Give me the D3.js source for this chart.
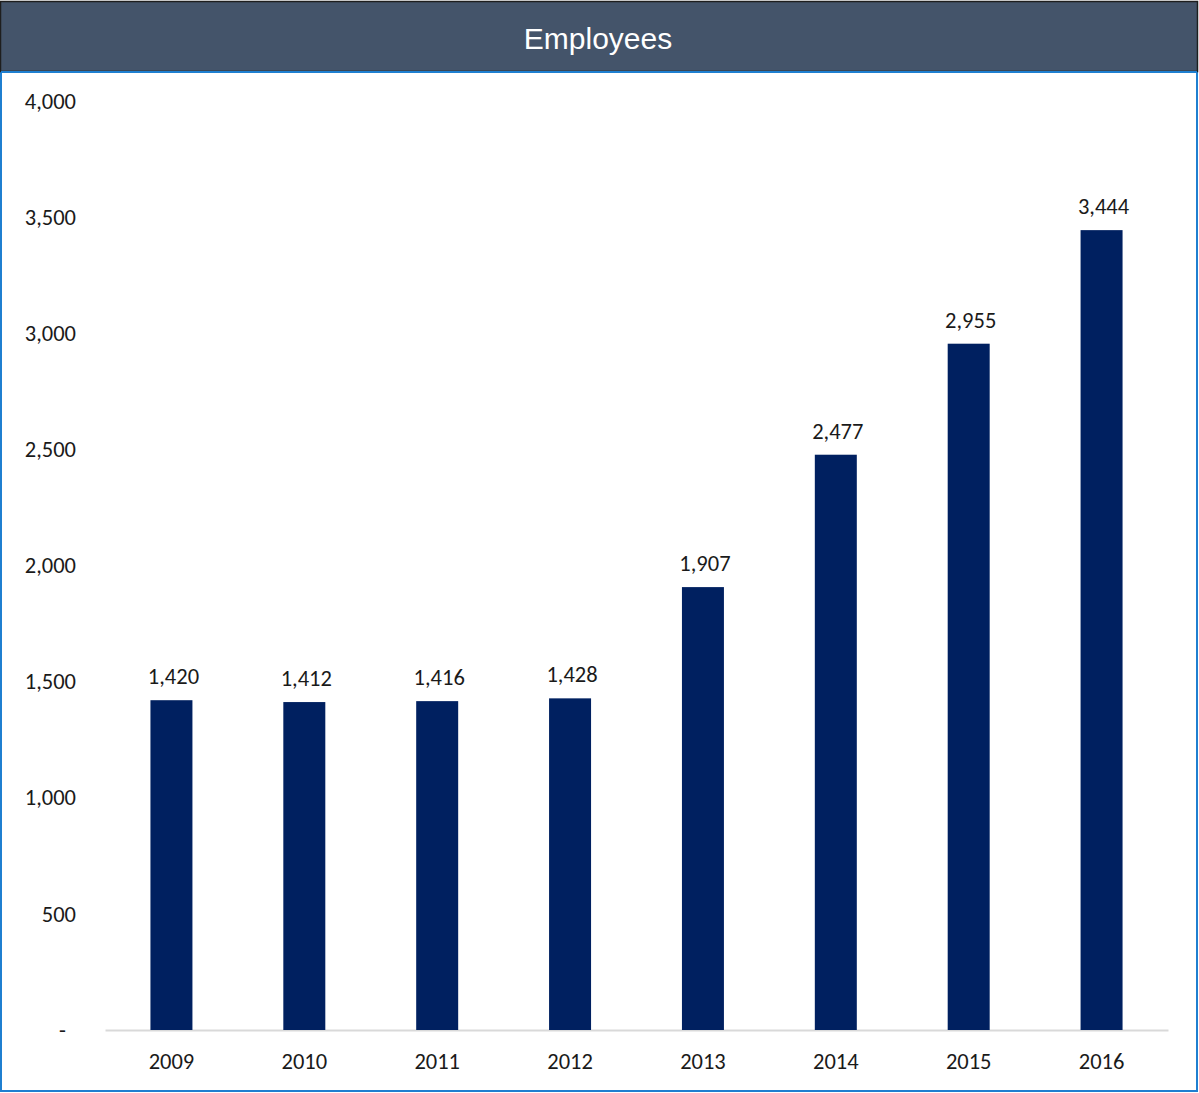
<!DOCTYPE html>
<html>
<head>
<meta charset="utf-8">
<script src="https://cdn.jsdelivr.net/npm/d3@7"></script>
<style>
  html, body { margin: 0; padding: 0; background: #fff; }
  svg { display: block; }
</style>
</head>
<body>
<svg id="chart" width="1199" height="1093"></svg>
<script>
// Headcount by year
const years = ["2009", "2010", "2011", "2012", "2013", "2014", "2015", "2016"];
const employees = [1420, 1412, 1416, 1428, 1907, 2477, 2955, 3444];
const yTicks = [0, 500, 1000, 1500, 2000, 2500, 3000, 3500, 4000];
const chartTitle = "Employees";

const W = 1199, H = 1093;
const svg = d3.select("#chart");
const labelFont = "Carlito, Calibri, Lato, 'Noto Sans', sans-serif";
const labelSize = "22.5px";

// outer frame (blue) and title band
svg.append("rect")
  .attr("x", 1).attr("y", 2).attr("width", W - 3).attr("height", H - 4)
  .attr("fill", "#fff").attr("stroke", "#1f7fd0").attr("stroke-width", 2);

svg.append("rect")
  .attr("x", 0.5).attr("y", 1.5).attr("width", W - 2).attr("height", 70)
  .attr("fill", "#44546a").attr("stroke", "#1e1e1e").attr("stroke-width", 1.5);

svg.append("line")
  .attr("x1", 1).attr("x2", W - 2).attr("y1", 72).attr("y2", 72)
  .attr("stroke", "#1f7fd0").attr("stroke-width", 2);

svg.append("text")
  .attr("x", 598).attr("y", 49)
  .attr("text-anchor", "middle")
  .attr("fill", "#fff")
  .style("font-family", "'Liberation Sans', Arial, sans-serif")
  .style("font-size", "30px")
  .text(chartTitle);

// plot scales
const x = d3.scaleBand().domain(years).range([105, 1168]).padding(0);
const y = d3.scaleLinear().domain([0, 4000]).range([1030, 101]);
const barW = x.bandwidth() * 0.316;

const fmt = d3.format(",");

// y axis labels (no line, no ticks)
const yAxis = d3.axisLeft(y).tickValues(yTicks)
  .tickSize(0).tickPadding(0)
  .tickFormat(d => d === 0 ? "-" : fmt(d));
const gy = svg.append("g").attr("transform", "translate(76,0)").call(yAxis);
gy.select(".domain").remove();
gy.selectAll("text")
  .attr("fill", "#1a1a1a")
  .style("font-family", labelFont)
  .style("font-size", labelSize)
  .attr("dx", d => d === 0 ? "-10px" : 0);

// x axis baseline and year labels
const xAxis = d3.axisBottom(x).tickSize(0).tickPadding(23);
const gx = svg.append("g").attr("transform", "translate(0,1030)").call(xAxis);
gx.select(".domain").attr("stroke", "#d9d9d9").attr("stroke-width", 2);
gx.selectAll("text")
  .attr("fill", "#1a1a1a")
  .style("font-family", labelFont)
  .style("font-size", labelSize);

// bars
const data = years.map((yr, i) => ({ year: yr, value: employees[i] }));
svg.append("g").selectAll("rect")
  .data(data)
  .join("rect")
  .attr("x", d => x(d.year) + x.bandwidth() / 2 - barW / 2)
  .attr("y", d => y(d.value))
  .attr("width", barW)
  .attr("height", d => y(0) - y(d.value))
  .attr("fill", "#002060");

// value labels
svg.append("g").selectAll("text")
  .data(data)
  .join("text")
  .attr("x", d => x(d.year) + x.bandwidth() / 2 + 2)
  .attr("y", d => y(d.value) - 16)
  .attr("text-anchor", "middle")
  .attr("fill", "#1a1a1a")
  .style("font-family", labelFont)
  .style("font-size", labelSize)
  .text(d => fmt(d.value));
</script>
</body>
</html>
